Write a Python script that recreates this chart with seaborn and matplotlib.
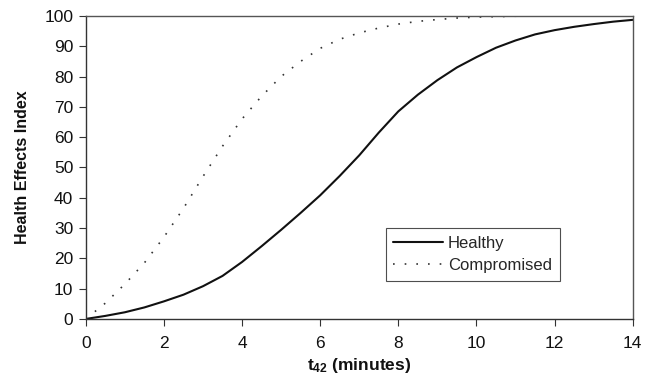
import numpy as np
import pandas as pd
import matplotlib
matplotlib.use("Agg")
import matplotlib.pyplot as plt
import seaborn as sns

# --- data ---
t_healthy = [0, 0.5, 1, 1.5, 2, 2.5, 3, 3.5, 4, 4.5, 5, 5.5, 6, 6.5, 7, 7.5, 8,
             8.5, 9, 9.5, 10, 10.5, 11, 11.5, 12, 12.5, 13, 13.5, 14]
healthy = [0, 1.0, 2.2, 3.8, 5.8, 8.0, 10.8, 14.2, 18.8, 24.0, 29.4, 35.0, 40.8,
           47.2, 54.0, 61.5, 68.5, 74.0, 78.8, 83.0, 86.4, 89.5, 91.9, 93.9, 95.3,
           96.4, 97.3, 98.1, 98.7]
t_comp = [0, 0.5, 1, 1.5, 2, 2.5, 3, 3.5, 4, 4.5, 5, 5.5, 6, 6.5, 7, 7.5, 8,
          8.5, 9, 9.5, 10, 11, 12, 13, 14]
compromised = [0, 5.2, 11.5, 18.5, 27.0, 36.5, 47.0, 57.0, 66.0, 73.5, 80.0, 85.0,
               89.3, 92.3, 94.4, 96.0, 97.3, 98.2, 98.8, 99.3, 99.6, 99.9, 100, 100, 100]
series_names = ["Healthy", "Compromised"]
x_ticks = [0, 2, 4, 6, 8, 10, 12, 14]
y_ticks = [0, 10, 20, 30, 40, 50, 60, 70, 80, 90, 100]

df = pd.concat([
    pd.DataFrame({"t": t_healthy, "v": healthy, "s": series_names[0]}),
    pd.DataFrame({"t": t_comp, "v": compromised, "s": series_names[1]}),
])

sns.set_theme(style="white")
plt.rcParams["font.family"] = ["Liberation Sans", "DejaVu Sans"]
plt.rcParams["mathtext.fontset"] = "custom"
plt.rcParams["mathtext.rm"] = "Liberation Sans"
plt.rcParams["mathtext.bf"] = "Liberation Sans:bold"

fig = plt.figure(figsize=(6.45, 3.88), dpi=100)
ax = fig.add_axes([0.133, 0.178, 0.848, 0.781])

sns.lineplot(data=df, x="t", y="v", hue="s", style="s",
             palette={"Healthy": "#111111", "Compromised": "#333333"},
             dashes={"Healthy": "", "Compromised": (1, 6)},
             ax=ax, legend=False)
lines = ax.get_lines()
lines[0].set_linewidth(1.5)
lines[1].set_linewidth(1.2)

ax.set_xlim(0, 14)
ax.set_ylim(0, 100)
ax.set_xticks(x_ticks)
ax.set_yticks(y_ticks)
ax.tick_params(axis="both", direction="out", length=5, width=0.8,
               color="#333333", labelsize=12.5, labelcolor="#111111", pad=4)
ax.tick_params(axis="x", pad=7)
ax.tick_params(bottom=True, left=True)
for sp in ax.spines.values():
    sp.set_visible(True)
    sp.set_color("#555555")
    sp.set_linewidth(1.0)
ax.spines["left"].set_color("#333333")
ax.spines["bottom"].set_color("#333333")

ax.set_ylabel("Health Effects Index", fontsize=11.5, fontweight="bold",
              color="#111111", labelpad=10)
ax.set_xlabel(r"$\mathbf{t_{42}}$ (minutes)", fontsize=12.5, fontweight="bold",
              color="#111111", labelpad=4)

leg = ax.legend(handles=lines, labels=series_names, loc="upper left",
                bbox_to_anchor=(0.548, 0.30), frameon=True, fancybox=False,
                fontsize=12, handlelength=3.0, handletextpad=0.3,
                borderpad=0.45, labelspacing=0.45, borderaxespad=0)
leg.get_frame().set_edgecolor("#222222")
leg.get_frame().set_linewidth(0.8)

fig.savefig("out.png", dpi=100, facecolor="white")
